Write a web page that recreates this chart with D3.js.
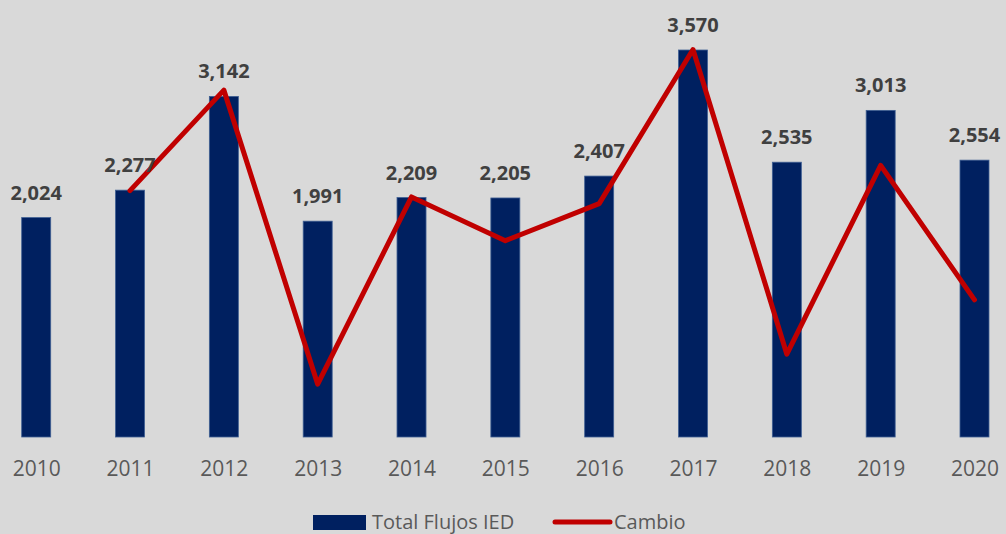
<!DOCTYPE html>
<html>
<head>
<meta charset="utf-8">
<script src="https://cdn.jsdelivr.net/npm/d3@7"></script>
<style>
  body { margin: 0; background: #d9d9d9; }
  svg { display: block; font-family: "Open Sans", sans-serif; }
</style>
</head>
<body>
<svg id="chart" width="1006" height="534"></svg>
<script>
const years = ["2010","2011","2012","2013","2014","2015","2016","2017","2018","2019","2020"]
const flujos = [2024, 2277, 3142, 1991, 2209, 2205, 2407, 3570, 2535, 3013, 2554]
// cambio anual en %, a partir de 2011
const cambio = [null, 12.5, 38.0, -36.6, 10.9, -0.2, 9.2, 48.3, -29.0, 18.9, -15.2]

const svg = d3.select('#chart')
const W = 1006, H = 534

svg.append('rect').attr('width', W).attr('height', H).attr('fill', '#d9d9d9')

const x = d3.scalePoint()
    .domain(years)
    .range([36.2, 974.5])

const y = d3.scaleLinear()
    .domain([0, 4000])
    .range([437, 3.4])

const y2 = d3.scaleLinear()
    .domain([-50, 60])
    .range([437, 3.4])

const barW = 29

svg.selectAll('rect.bar')
    .data(flujos)
    .enter()
    .append('rect')
    .attr('class', 'bar')
    .attr('x', (d, i) => x(years[i]) - barW / 2)
    .attr('y', d => y(d))
    .attr('width', barW)
    .attr('height', d => y(0) - y(d))
    .attr('fill', '#002060')
    .attr('stroke', '#3f5f93')
    .attr('stroke-width', 0.8)

const line = d3.line()
    .defined(d => d != null)
    .x((d, i) => x(years[i]))
    .y(d => y2(d))

svg.append('path')
    .datum(cambio)
    .attr('d', line)
    .attr('fill', 'none')
    .attr('stroke', '#c00000')
    .attr('stroke-width', 5)
    .attr('stroke-linejoin', 'round')
    .attr('stroke-linecap', 'round')

svg.selectAll('text.lbl')
    .data(flujos)
    .enter()
    .append('text')
    .attr('class', 'lbl')
    .attr('x', (d, i) => x(years[i]))
    .attr('y', d => y(d) - 18)
    .attr('text-anchor', 'middle')
    .attr('font-size', 20)
    .attr('font-weight', 'bold')
    .attr('fill', '#404040')
    .text(d => d3.format(',')(d))

// eje x sin línea
const xAxis = svg.append('g')
    .attr('transform', 'translate(0,437)')
    .call(d3.axisBottom(x).tickSize(0).tickPadding(24))
xAxis.select('.domain').remove()
xAxis.selectAll('text')
    .attr('font-size', 21)
    .attr('font-family', '"Open Sans", sans-serif')
    .attr('fill', '#595959')

// leyenda
const leg = svg.append('g')
leg.append('rect')
    .attr('x', 313).attr('y', 515)
    .attr('width', 53).attr('height', 15)
    .attr('fill', '#002060')
leg.append('text')
    .attr('x', 372).attr('y', 529)
    .attr('font-size', 20).attr('fill', '#595959')
    .text('Total Flujos IED')
leg.append('line')
    .attr('x1', 555).attr('x2', 610)
    .attr('y1', 522).attr('y2', 522)
    .attr('stroke', '#c00000').attr('stroke-width', 5)
    .attr('stroke-linecap', 'round')
leg.append('text')
    .attr('x', 614).attr('y', 529)
    .attr('font-size', 20).attr('fill', '#595959')
    .text('Cambio')
</script>
</body>
</html>
